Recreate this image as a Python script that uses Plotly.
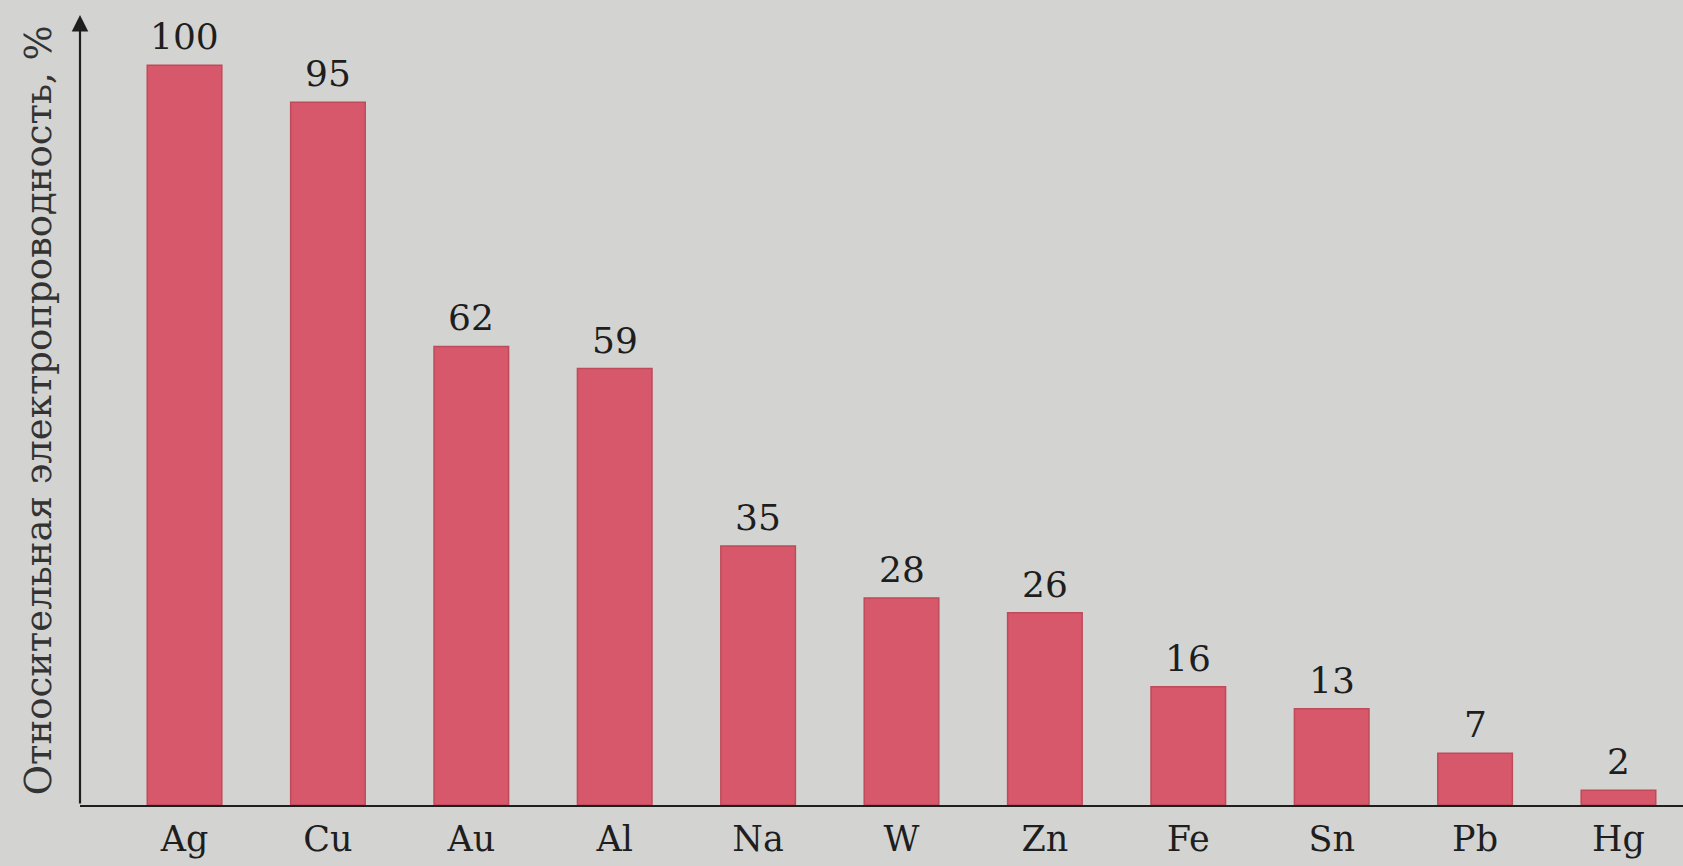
import plotly.graph_objects as go

# Relative electrical conductivity of metals (silver = 100 %)
metals = ["Ag", "Cu", "Au", "Al", "Na", "W", "Zn", "Fe", "Sn", "Pb", "Hg"]
conductivity = [100, 95, 62, 59, 35, 28, 26, 16, 13, 7, 2]
y_title = "Относительная электропроводность, %"

BG = "#d3d4d2"
BAR = "#d6586a"
BAR_EDGE = "#bf4a5a"
INK = "#1e1e1e"
FONT = "DejaVu Serif"

fig = go.Figure(
    go.Bar(
        x=list(range(len(metals))),
        y=conductivity,
        width=0.52,
        marker=dict(color=BAR, line=dict(color=BAR_EDGE, width=1.5)),
        hoverinfo="skip",
    )
)

# value labels above each bar
for i, v in enumerate(conductivity):
    fig.add_annotation(
        x=i, y=v, xref="x", yref="y",
        text=str(v), showarrow=False,
        yanchor="bottom", yshift=6,
        font=dict(family=FONT, size=36, color=INK),
    )

YMAX = 106.8

# y axis arrow
fig.add_annotation(
    x=-0.729, y=YMAX, xref="x", yref="y",
    ax=0, ay=790, axref="pixel", ayref="pixel",
    text="", showarrow=True, arrowhead=2, arrowsize=1.5,
    arrowwidth=2.2, arrowcolor=INK,
)

# rotated axis title
fig.add_annotation(
    x=-0.026, y=0.5, xref="paper", yref="paper",
    text=y_title, showarrow=False, textangle=-90,
    xanchor="center", yanchor="middle",
    font=dict(family=FONT, size=37, color="#333333"),
)

fig.update_layout(
    width=1683, height=866,
    margin=dict(l=80, r=0, t=15, b=61),
    paper_bgcolor=BG, plot_bgcolor=BG,
    showlegend=False,
    xaxis=dict(
        range=[-0.729, 10.45],
        tickmode="array",
        tickvals=list(range(len(metals))),
        ticktext=metals,
        ticks="",
        ticklabelstandoff=2,
        tickfont=dict(family=FONT, size=35, color=INK),
        showgrid=False, zeroline=False,
        showline=True, linecolor=INK, linewidth=2.2,
    ),
    yaxis=dict(
        range=[0, YMAX],
        showticklabels=False, ticks="",
        showgrid=False, zeroline=False, showline=False,
    ),
)

fig.write_html("out.html")
